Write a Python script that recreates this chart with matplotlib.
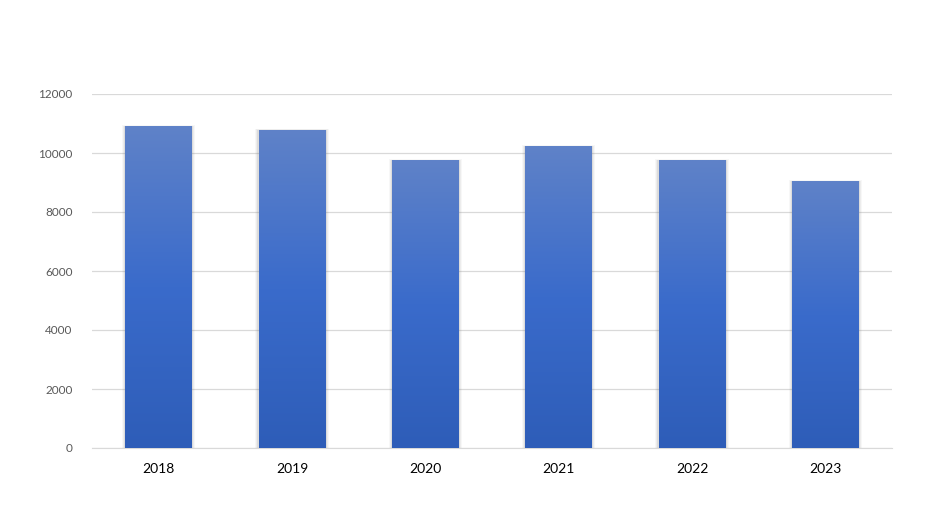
import numpy as np
import matplotlib.pyplot as plt
from matplotlib.colors import LinearSegmentedColormap
from matplotlib.patches import Rectangle

years = ["2018", "2019", "2020", "2021", "2022", "2023"]
values = [10910, 10780, 9760, 10230, 9760, 9050]
y_ticks = [0, 2000, 4000, 6000, 8000, 10000, 12000]

plt.rcParams['font.family'] = ['Lato', 'DejaVu Sans']

fig = plt.figure(figsize=(9.53, 5.27), dpi=100)
ax = fig.add_axes([92 / 953, 79 / 527, 800 / 953, 354 / 527])

x = np.arange(len(years))
bars = ax.bar(x, values, width=0.5, color="none", zorder=3)

# vertical gradient, light at top, darker at bottom
cmap = LinearSegmentedColormap.from_list(
    "bar", ["#2E5DB8", "#3A6BCB", "#5F82C8"])
grad = np.linspace(0, 1, 256).reshape(-1, 1)

for b in bars:
    x0, w, h = b.get_x(), b.get_width(), b.get_height()
    # soft shadow, mostly on the sides
    for k, a in zip([0.05, 0.034, 0.018], [0.06, 0.09, 0.14]):
        ax.add_patch(Rectangle((x0 - k * 0.5, 0), w + k, h + 25 * k / 0.05,
                               facecolor="#808080", edgecolor="none",
                               alpha=a, zorder=2))
    im = ax.imshow(grad, cmap=cmap, aspect="auto", origin="lower",
                   extent=[x0, x0 + w, 0, h], zorder=4)
    im.set_clip_path(Rectangle((x0, 0), w, h, transform=ax.transData))

ax.set_xlim(-0.5, len(years) - 0.5)
ax.set_ylim(0, 12000)
ax.set_yticks(y_ticks)
ax.set_yticklabels([str(v) for v in y_ticks], color="#595959", fontsize=8.5)
ax.set_xticks(x)
ax.set_xticklabels(years, fontsize=10, color="black")
ax.grid(axis="y", color="#D9D9D9", linewidth=0.9, zorder=0)
ax.tick_params(length=0)
ax.tick_params(axis="x", pad=11)
ax.tick_params(axis="y", pad=14)
for s in ["top", "right", "left"]:
    ax.spines[s].set_visible(False)
ax.spines["bottom"].set_color("#D9D9D9")

fig.savefig("out.png", dpi=100)
